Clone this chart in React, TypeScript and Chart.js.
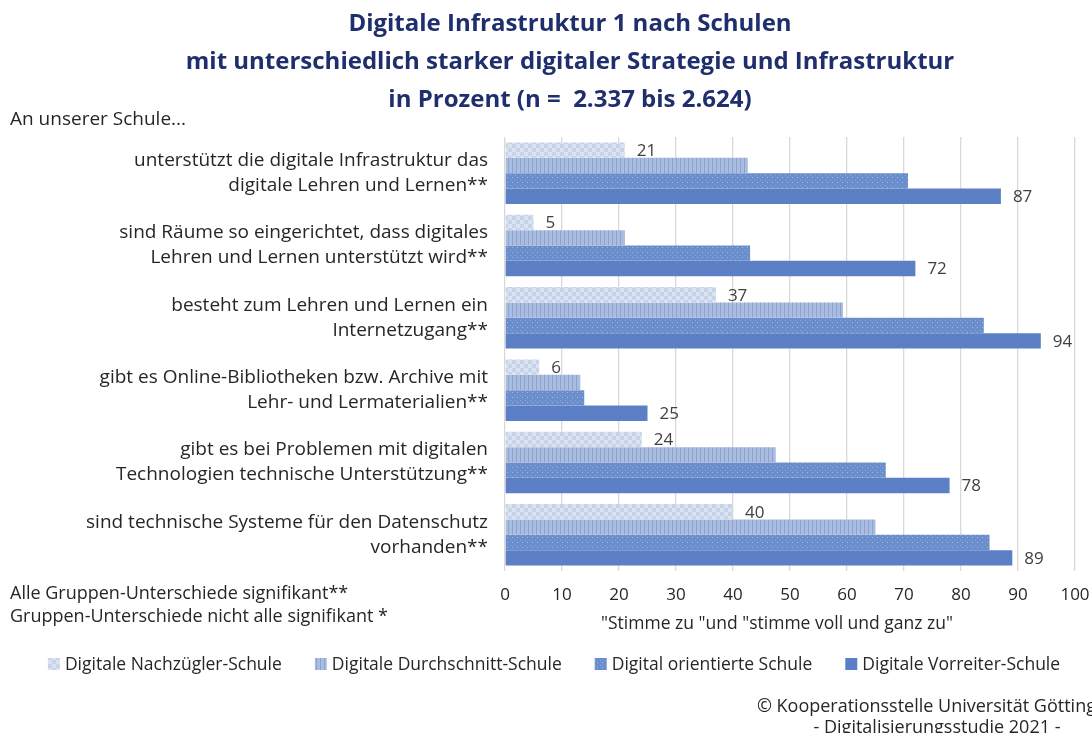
import React, { useEffect, useRef } from "react";
import { Chart, registerables } from "chart.js";

Chart.register(...registerables);

const categories: string[][] = [
  ["unterstützt die digitale Infrastruktur das", "digitale Lehren und Lernen**"],
  ["sind Räume so eingerichtet, dass digitales", "Lehren und Lernen unterstützt wird**"],
  ["besteht zum Lehren und Lernen ein", "Internetzugang**"],
  ["gibt es Online-Bibliotheken bzw. Archive mit", "Lehr- und Lermaterialien**"],
  ["gibt es bei Problemen mit digitalen", "Technologien technische Unterstützung**"],
  ["sind technische Systeme für den Datenschutz", "vorhanden**"],
];

const seriesNames = [
  "Digitale Nachzügler-Schule",
  "Digitale Durchschnitt-Schule",
  "Digital orientierte Schule",
  "Digitale Vorreiter-Schule",
];

const nachzuegler = [21, 5, 37, 6, 24, 40];
const durchschnitt = [42.6, 21, 59.3, 13.2, 47.5, 65];
const orientiert = [70.7, 43, 84, 13.9, 66.8, 85];
const vorreiter = [87, 72, 94, 25, 78, 89];

const xTicks = [0, 10, 20, 30, 40, 50, 60, 70, 80, 90, 100];

const FONT = "'Open Sans', 'Noto Sans', sans-serif";

function makePattern(kind: number): CanvasPattern | string {
  const c = document.createElement("canvas");
  const ctx = c.getContext("2d");
  if (!ctx) return "#5b7fc5";
  if (kind === 0) {
    c.width = 8; c.height = 8;
    ctx.fillStyle = "#dde3ec"; ctx.fillRect(0, 0, 8, 8);
    ctx.fillStyle = "#c5d4ec";
    ctx.fillRect(0, 0, 4, 4); ctx.fillRect(4, 4, 4, 4);
  } else if (kind === 1) {
    c.width = 4; c.height = 4;
    ctx.fillStyle = "#aabde0"; ctx.fillRect(0, 0, 4, 4);
    ctx.fillStyle = "#8ca3cf"; ctx.fillRect(0, 0, 1, 4);
  } else if (kind === 2) {
    c.width = 5; c.height = 5;
    ctx.fillStyle = "#6a8dcb"; ctx.fillRect(0, 0, 5, 5);
    ctx.fillStyle = "#a3b6dc"; ctx.fillRect(2, 2, 1, 1);
    ctx.fillStyle = "#8ea6d4"; ctx.fillRect(0, 0, 1, 1);
  } else {
    c.width = 8; c.height = 8;
    ctx.fillStyle = "#5a7fc6"; ctx.fillRect(0, 0, 8, 8);
    ctx.fillStyle = "#7488ad";
    ctx.fillRect(1, 1, 1, 1); ctx.fillRect(5, 3, 1, 1); ctx.fillRect(3, 6, 1, 1); ctx.fillRect(7, 5, 1, 1);
  }
  const p = ctx.createPattern(c, "repeat");
  return p || "#5b7fc5";
}

const valueLabels = {
  id: "valueLabels",
  afterDatasetsDraw(chart: any) {
    const ctx = chart.ctx;
    ctx.save();
    ctx.font = `17px ${FONT}`;
    ctx.fillStyle = "#404040";
    ctx.textAlign = "left";
    ctx.textBaseline = "middle";
    [0, 3].forEach((di) => {
      const meta = chart.getDatasetMeta(di);
      meta.data.forEach((bar: any, i: number) => {
        const v = chart.data.datasets[di].data[i];
        ctx.fillText(String(Math.round(v)), bar.x + 12, bar.y + 1);
      });
    });
    ctx.restore();
  },
};

const customLegend = {
  id: "customLegend",
  afterDraw(chart: any) {
    const ctx = chart.ctx;
    ctx.save();
    ctx.font = `17.5px ${FONT}`;
    ctx.textBaseline = "middle";
    ctx.textAlign = "left";
    const box = 12, gapText = 5, gapItem = 33;
    const ds = chart.data.datasets;
    let total = 0;
    const widths = ds.map((d: any) => ctx.measureText(d.label).width);
    widths.forEach((w: number) => (total += box + gapText + w));
    total += gapItem * (ds.length - 1);
    let x = 554 - total / 2;
    const y = 664;
    ds.forEach((d: any, i: number) => {
      ctx.fillStyle = d.backgroundColor;
      ctx.fillRect(x, y - box / 2, box, box);
      ctx.fillStyle = "#262626";
      ctx.fillText(d.label, x + box + gapText, y + 1);
      x += box + gapText + widths[i] + gapItem;
    });
    ctx.restore();
  },
};

export default function App() {
  const ref = useRef<HTMLCanvasElement | null>(null);

  useEffect(() => {
    if (!ref.current) return;
    const values = [nachzuegler, durchschnitt, orientiert, vorreiter];
    const chart = new Chart(ref.current, {
      type: "bar",
      data: {
        labels: categories,
        datasets: values.map((d, i) => ({
          label: seriesNames[i],
          data: d,
          backgroundColor: makePattern(i) as any,
          borderWidth: 0,
          categoryPercentage: 0.85,
          barPercentage: 1.0,
        })),
      },
      options: {
        indexAxis: "y",
        responsive: false,
        animation: false,
        devicePixelRatio: 1,
        layout: { padding: { top: 137, right: 17, bottom: 122, left: 0 } },
        plugins: {
          legend: { display: false },
          title: { display: false },
          tooltip: { enabled: false },
        },
        scales: {
          x: {
            min: 0,
            max: 100,
            afterBuildTicks: (scale: any) => {
              scale.ticks = xTicks.map((v) => ({ value: v }));
            },
            afterFit: (scale: any) => {
              scale.height = 40;
              scale.paddingRight = 0;
              scale.paddingLeft = 0;
            },
            grid: { color: "#d9d9d9", lineWidth: 1.3, drawTicks: false },
            border: { display: false },
            ticks: {
              padding: 14,
              color: "#262626",
              font: { family: FONT, size: 17 },
              maxRotation: 0,
            },
          },
          y: {
            afterFit: (scale: any) => {
              scale.width = 505;
            },
            grid: { display: false, drawTicks: false },
            border: { display: false },
            ticks: {
              padding: 17,
              color: "#262626",
              font: { family: FONT, size: 19, lineHeight: 1.32 },
            },
          },
        },
      },
      plugins: [valueLabels, customLegend],
    });
    return () => chart.destroy();
  }, []);

  const text: React.CSSProperties = {
    position: "absolute",
    fontFamily: FONT,
    color: "#262626",
    whiteSpace: "nowrap",
  };

  return (
    <div
      style={{
        position: "absolute",
        left: 0,
        top: 0,
        width: 1092,
        height: 733,
        overflow: "hidden",
        background: "#ffffff",
      }}
    >
      <canvas ref={ref} width={1092} height={733} style={{ position: "absolute", left: 0, top: 0 }} />
      <div
        style={{
          ...text,
          left: 0,
          top: 3,
          width: 1140,
          textAlign: "center",
          fontWeight: 700,
          fontSize: 24,
          lineHeight: "38px",
          color: "#1f2f6e",
        }}
      >
        Digitale Infrastruktur 1 nach Schulen
        <br />
        mit unterschiedlich starker digitaler Strategie und Infrastruktur
        <br />
        in Prozent (n =&nbsp; 2.337 bis 2.624)
      </div>
      <div style={{ ...text, left: 10, top: 105, fontSize: 19, lineHeight: "26px" }}>An unserer Schule...</div>
      <div style={{ ...text, left: 10, top: 581, fontSize: 18, lineHeight: "23px" }}>
        Alle Gruppen-Unterschiede signifikant**
        <br />
        Gruppen-Unterschiede nicht alle signifikant *
      </div>
      <div style={{ ...text, left: 577, width: 400, top: 610, textAlign: "center", fontSize: 17.5, lineHeight: "24px" }}>
        "Stimme zu "und "stimme voll und ganz zu"
      </div>
      <div style={{ ...text, left: 737, width: 400, top: 695, textAlign: "center", fontSize: 18, lineHeight: "21px" }}>
        © Kooperationsstelle Universität Göttingen
        <br />- Digitalisierungsstudie 2021 -
      </div>
    </div>
  );
}
